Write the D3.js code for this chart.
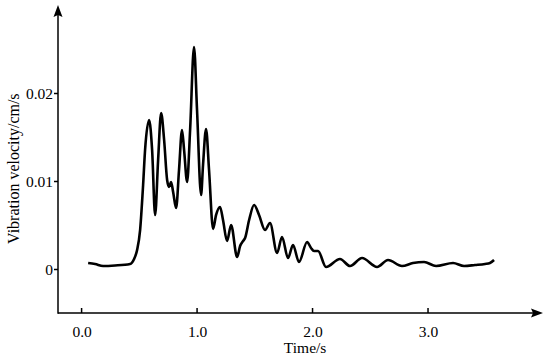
<!DOCTYPE html>
<html>
<head>
<meta charset="utf-8">
<script src="https://cdn.jsdelivr.net/npm/d3@7"></script>
<style>
  html, body { margin: 0; padding: 0; background: #fff; }
</style>
</head>
<body>
<div class="chart"></div>
<script>
// time (s) and vibration velocity (cm/s)
const time = [0.061, 0.121, 0.190, 0.294, 0.424, 0.459, 0.485, 0.511, 0.537, 0.554,
  0.589, 0.615, 0.641, 0.667, 0.693, 0.719, 0.745, 0.762, 0.779, 0.797,
  0.823, 0.848, 0.874, 0.892, 0.918, 0.944, 0.978, 1.004, 1.039, 1.056,
  1.082, 1.108, 1.143, 1.169, 1.203, 1.229, 1.264, 1.299, 1.351, 1.377,
  1.403, 1.420, 1.455, 1.498, 1.541, 1.593, 1.636, 1.697, 1.740, 1.792,
  1.835, 1.887, 1.957, 1.991, 2.017, 2.052, 2.121, 2.242, 2.329, 2.433,
  2.563, 2.658, 2.779, 2.874, 2.970, 3.074, 3.221, 3.316, 3.411, 3.498,
  3.541, 3.576]
const velocity = [0.00068, 0.00057, 0.00034, 0.0004, 0.00057, 0.00114, 0.00216, 0.00443, 0.00955, 0.01352,
  0.01693, 0.01352, 0.00614, 0.01239, 0.01773, 0.01466, 0.01011, 0.00932, 0.00989, 0.00875,
  0.00693, 0.01125, 0.0158, 0.01352, 0.00989, 0.0158, 0.02523, 0.01807, 0.00841, 0.01182,
  0.01591, 0.01125, 0.00455, 0.00614, 0.00705, 0.00557, 0.00318, 0.005, 0.00136, 0.00261,
  0.00318, 0.00352, 0.00557, 0.00727, 0.00614, 0.00443, 0.00523, 0.00182, 0.00364, 0.00125,
  0.00273, 0.0008, 0.00307, 0.00239, 0.00205, 0.00205, 0.00023, 0.00114, 0.00034, 0.00125,
  0.00023, 0.00102, 0.00034, 0.00068, 0.0008, 0.00034, 0.00068, 0.00034, 0.00045, 0.00057,
  0.00068, 0.00102]

const xTicks = [0, 1, 2, 3]
const yTicks = [0, 0.01, 0.02]
const xLabel = 'Time/s'
const yLabel = 'Vibration velocity/cm/s'

const data = time.map((t, i) => ({ time: t, velocity: velocity[i] }))

const width = 550
const height = 360
const left = 58      // y axis position
const bottom = 313   // x axis position
const font = "'Liberation Serif', 'Times New Roman', Times, 'DejaVu Serif', serif"

const xScale = d3.scaleLinear().domain([-0.2, 4.0]).range([left, 543])
const yScale = d3.scaleLinear().domain([-0.005, 0.03]).range([bottom, 5])

const svg = d3.select('.chart')
  .append('svg')
  .attr('width', width)
  .attr('height', height)
  .attr('font-family', font)

// axes
svg.append('g')
  .attr('transform', `translate(0, ${bottom})`)
  .call(d3.axisTop(xScale).tickValues(xTicks).tickSize(5).tickFormat(''))
svg.append('g')
  .attr('transform', `translate(${left}, 0)`)
  .call(d3.axisLeft(yScale).tickValues(yTicks).tickSize(4).tickFormat(''))

svg.selectAll('.domain').remove()
svg.selectAll('.tick line').attr('stroke', '#000').attr('stroke-width', 1.5)

// axis lines with arrows
svg.append('line')
  .attr('x1', left).attr('y1', bottom)
  .attr('x2', xScale(4.0) - 8).attr('y2', bottom)
  .attr('stroke', '#000').attr('stroke-width', 1.5)
svg.append('line')
  .attr('x1', left).attr('y1', bottom + 0.75)
  .attr('x2', left).attr('y2', yScale(0.03) + 8)
  .attr('stroke', '#000').attr('stroke-width', 1.5)
svg.append('path')
  .attr('d', `M${xScale(4.0)},${bottom} l-12,-4.5 l2,4.5 l-2,4.5 z`)
  .attr('fill', '#000')
svg.append('path')
  .attr('d', `M${left},${yScale(0.03)} l-4.5,12 l4.5,-2 l4.5,2 z`)
  .attr('fill', '#000')

// tick labels
svg.append('g').selectAll('text')
  .data(xTicks)
  .enter()
  .append('text')
  .attr('x', d => xScale(d) + 1)
  .attr('y', bottom + 24)
  .attr('text-anchor', 'middle')
  .attr('font-family', font)
  .attr('font-size', 15.5)
  .text(d => d.toFixed(1))

svg.append('g').selectAll('text')
  .data(yTicks)
  .enter()
  .append('text')
  .attr('x', left - 5)
  .attr('y', d => yScale(d) + 5.5)
  .attr('text-anchor', 'end')
  .attr('font-family', font)
  .attr('font-size', 15.5)
  .text(d => d === 0 ? '0' : d.toFixed(2))

// axis titles
svg.append('text')
  .attr('x', xScale(1.94))
  .attr('y', bottom + 40)
  .attr('text-anchor', 'middle')
  .attr('font-family', font)
  .attr('font-size', 15.5)
  .text(xLabel)

svg.append('text')
  .attr('transform', `translate(19, ${yScale(0.0114)}) rotate(-90)`)
  .attr('text-anchor', 'middle')
  .attr('font-family', font)
  .attr('font-size', 16)
  .text(yLabel)

// the velocity curve
const line = d3.line()
  .x(d => xScale(d.time))
  .y(d => yScale(d.velocity))
  .curve(d3.curveMonotoneX)

svg.append('path')
  .datum(data)
  .attr('fill', 'none')
  .attr('stroke', '#000')
  .attr('stroke-width', 2.6)
  .attr('stroke-linejoin', 'round')
  .attr('d', line)
</script>
</body>
</html>
